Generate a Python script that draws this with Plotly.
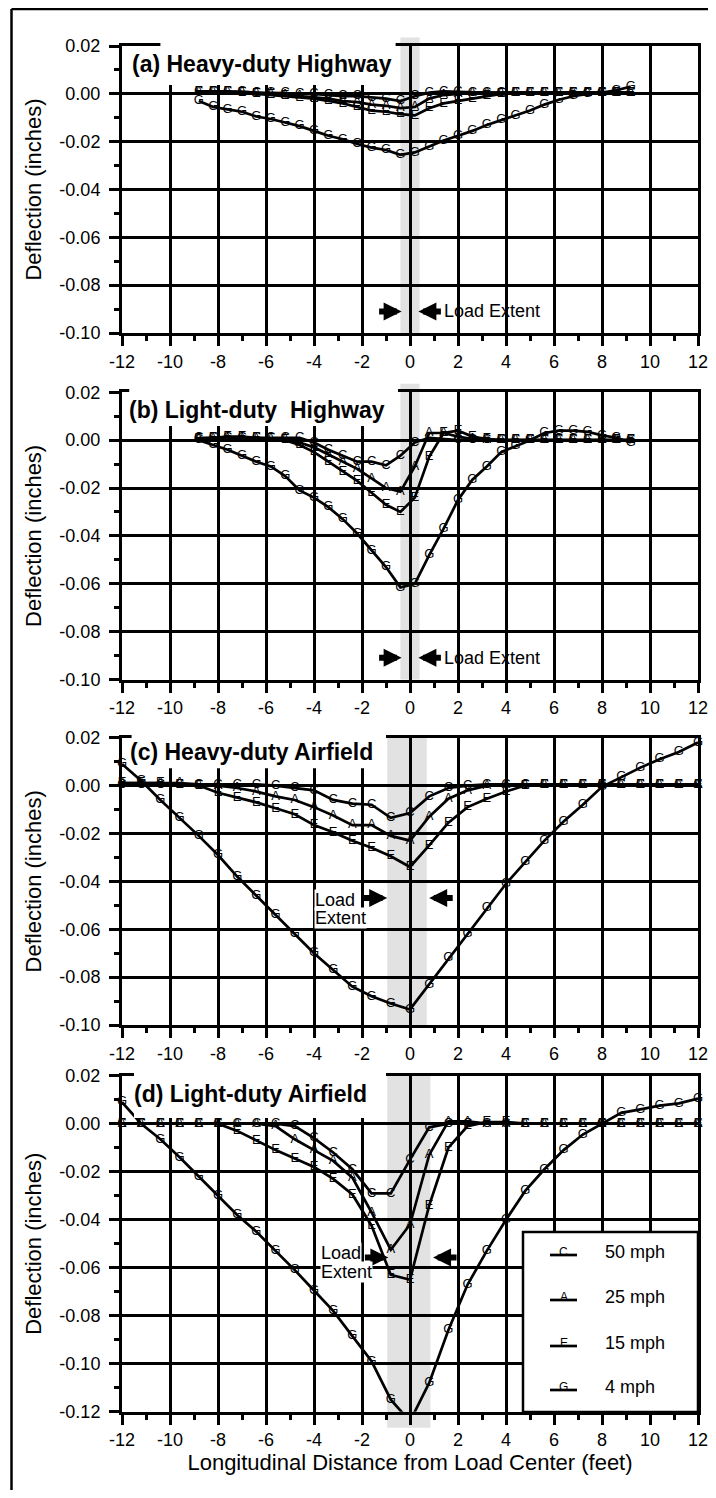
import plotly.graph_objects as go

# ---------------- data ----------------
x_highway = [-8.8, -8.2, -7.6, -7.0, -6.4, -5.8, -5.2, -4.6, -4.0, -3.4, -2.8, -2.2, -1.6, -1.0, -0.4,
             0.2, 0.8, 1.4, 2.0, 2.6, 3.2, 3.8, 4.4, 5.0, 5.6, 6.2, 6.8, 7.4, 8.0, 8.6, 9.2]
x_airfield = [-12.0, -11.2, -10.4, -9.6, -8.8, -8.0, -7.2, -6.4, -5.6, -4.8, -4.0, -3.2, -2.4, -1.6, -0.8,
              0.0, 0.8, 1.6, 2.4, 3.2, 4.0, 4.8, 5.6, 6.4, 7.2, 8.0, 8.8, 9.6, 10.4, 11.2, 12.0]

# (a) Heavy-duty Highway
a_50 = [0.001, 0.001, 0.001, 0.0008, 0.0005, 0.0005, 0.0003, 0.0, 0.0, -0.0005, -0.001, -0.001, -0.0015, -0.002, -0.003,
        -0.001, 0.0005, 0.001, 0.0008, 0.0005, 0.0005, 0.0005, 0.0005, 0.0005, 0.0005, 0.0005, 0.0005, 0.0005, 0.0005, 0.0005, 0.0005]
a_25 = [0.001, 0.001, 0.001, 0.0008, 0.0005, 0.0, -0.0005, -0.001, -0.0015, -0.002, -0.003, -0.0035, -0.0045, -0.005, -0.006,
        -0.0055, -0.002, -0.0005, 0.0, 0.0005, 0.0005, 0.0005, 0.0005, 0.0005, 0.0005, 0.0005, 0.0005, 0.0005, 0.0005, 0.0005, 0.0005]
a_15 = [0.001, 0.001, 0.0008, 0.0005, 0.0, -0.0005, -0.001, -0.0015, -0.002, -0.003, -0.004, -0.0055, -0.007, -0.0075, -0.0085,
        -0.009, -0.006, -0.004, -0.003, -0.002, -0.001, 0.0, 0.0005, 0.0005, 0.0005, 0.0005, 0.0005, 0.0005, 0.0005, 0.0005, 0.0005]
a_4 = [-0.003, -0.0055, -0.0065, -0.0075, -0.0095, -0.0105, -0.012, -0.0135, -0.0155, -0.0175, -0.019, -0.021, -0.0225, -0.0235, -0.0255,
       -0.0245, -0.022, -0.0195, -0.0175, -0.0155, -0.013, -0.011, -0.009, -0.007, -0.0045, -0.0025, -0.001, 0.0, 0.0005, 0.0015, 0.003]

# (b) Light-duty Highway
b_50 = [0.001, 0.001, 0.001, 0.001, 0.001, 0.001, 0.001, 0.001, -0.001, -0.004, -0.0065, -0.009, -0.009, -0.0105, -0.0065,
        -0.001, 0.001, 0.0005, 0.0, 0.0, 0.0, 0.0, 0.0, 0.0, 0.0, 0.0, 0.0, 0.0, 0.0, 0.0, 0.0]
b_25 = [0.0005, 0.0005, 0.0005, 0.0005, 0.0005, 0.0005, 0.0005, -0.001, -0.003, -0.006, -0.009, -0.012, -0.016, -0.020, -0.0215,
        -0.011, 0.003, 0.003, 0.0015, 0.0005, 0.0, 0.0, 0.0, 0.0, 0.0, 0.0, 0.0, 0.0, 0.0, 0.0, 0.0]
b_15 = [0.0005, 0.001, 0.0015, 0.0015, 0.001, 0.0005, 0.0, -0.002, -0.005, -0.009, -0.013, -0.017, -0.022, -0.027, -0.030,
        -0.024, -0.007, 0.003, 0.004, 0.0015, 0.0005, 0.0, 0.0, 0.0, 0.0, 0.0, 0.0, 0.0, 0.0, 0.0, 0.0]
b_4 = [0.0, -0.002, -0.004, -0.0065, -0.009, -0.011, -0.015, -0.021, -0.024, -0.028, -0.033, -0.039, -0.046, -0.053, -0.0615,
       -0.060, -0.048, -0.037, -0.025, -0.0165, -0.011, -0.005, -0.0025, 0.0, 0.003, 0.004, 0.004, 0.0035, 0.002, 0.001, -0.001]

# (c) Heavy-duty Airfield
c_50 = [0.0005, 0.0005, 0.0005, 0.0005, 0.0005, 0.0005, 0.0005, 0.0005, 0.0, -0.001, -0.002, -0.006, -0.0075, -0.008, -0.0135,
        -0.0115, -0.0045, -0.001, 0.0, 0.0005, 0.0005, 0.0005, 0.0005, 0.0005, 0.0005, 0.0005, 0.0005, 0.0005, 0.0005, 0.0005, 0.0005]
c_25 = [0.001, 0.001, 0.001, 0.001, 0.0005, 0.0, -0.001, -0.0025, -0.0045, -0.006, -0.009, -0.0125, -0.0165, -0.0165, -0.021,
        -0.023, -0.013, -0.0055, -0.002, 0.0, 0.0005, 0.0005, 0.0005, 0.0005, 0.0005, 0.0005, 0.0005, 0.0005, 0.0005, 0.0005, 0.0005]
c_15 = [0.001, 0.001, 0.001, 0.0005, 0.0, -0.003, -0.005, -0.007, -0.0095, -0.012, -0.0165, -0.0195, -0.023, -0.026, -0.0295,
        -0.034, -0.025, -0.0155, -0.009, -0.0055, -0.0025, 0.0, 0.0005, 0.0005, 0.0005, 0.0005, 0.0005, 0.0005, 0.0005, 0.0005, 0.0005]
c_4 = [0.009, 0.002, -0.006, -0.0135, -0.021, -0.029, -0.038, -0.046, -0.054, -0.062, -0.070, -0.077, -0.084, -0.088, -0.091,
       -0.0935, -0.083, -0.072, -0.062, -0.051, -0.041, -0.032, -0.023, -0.015, -0.008, -0.0005, 0.0035, 0.0075, 0.011, 0.014, 0.018]

# (d) Light-duty Airfield
d_50 = [0.0, 0.0, 0.0, 0.0, 0.0, 0.0, 0.0, 0.0, 0.0, -0.001, -0.006, -0.012, -0.019, -0.029, -0.029,
        -0.015, -0.0015, 0.0, 0.0, 0.0, 0.0, 0.0, 0.0, 0.0, 0.0, 0.0, 0.0, 0.0, 0.0, 0.0, 0.0]
d_25 = [0.0, 0.0, 0.0, 0.0, 0.0, 0.0, 0.0, 0.0, -0.001, -0.0065, -0.011, -0.0155, -0.0225, -0.037, -0.0525,
        -0.042, -0.013, 0.001, 0.001, 0.0, 0.0, 0.0, 0.0, 0.0, 0.0, 0.0, 0.0, 0.0, 0.0, 0.0, 0.0]
d_15 = [0.0, 0.0, 0.0, 0.0, 0.0, 0.0, -0.003, -0.007, -0.011, -0.0145, -0.018, -0.023, -0.0295, -0.0425, -0.063,
        -0.065, -0.034, -0.010, -0.001, 0.0007, 0.0007, 0.0, 0.0, 0.0, 0.0, 0.0, 0.0, 0.0, 0.0, 0.0, 0.0]
d_4 = [0.009, 0.0, -0.0065, -0.014, -0.022, -0.030, -0.038, -0.045, -0.053, -0.061, -0.0695, -0.078, -0.0885, -0.099, -0.115,
       -0.124, -0.108, -0.086, -0.067, -0.053, -0.040, -0.028, -0.019, -0.011, -0.0045, 0.0, 0.0045, 0.006, 0.0075, 0.0085, 0.0105]

speed_names = ['50 mph', '25 mph', '15 mph', '4 mph']
speed_letters = ['C', 'A', 'E', 'G']
panel_titles = ['(a) Heavy-duty Highway', '(b) Light-duty  Highway',
                '(c) Heavy-duty Airfield', '(d) Light-duty Airfield']

x_tick_vals = [-12, -10, -8, -6, -4, -2, 0, 2, 4, 6, 8, 10, 12]
x_tick_text = ['-12', '-10', '-8', '-6', '-4', '-2', '0', '2', '4', '6', '8', '10', '12']
y_tick_vals = [0.02, 0.0, -0.02, -0.04, -0.06, -0.08, -0.10, -0.12]
y_tick_text = ['0.02', '0.00', '-0.02', '-0.04', '-0.06', '-0.08', '-0.10', '-0.12']
y_min = [-0.10, -0.10, -0.10, -0.12]
y_max = 0.02

band_lo = [-0.4, -0.4, -0.95, -0.95]
band_hi = [0.4, 0.4, 0.7, 0.85]

panel_x = [x_highway, x_highway, x_airfield, x_airfield]
panel_series = [[a_50, a_25, a_15, a_4], [b_50, b_25, b_15, b_4],
                [c_50, c_25, c_15, c_4], [d_50, d_25, d_15, d_4]]

# ---------------- layout geometry ----------------
# reference-pixel positions are converted to figure paper coordinates; the page body
# has an 8px margin, so the figure is drawn 8px smaller on each side.
OFF = 8
W, H = 716 - 2 * OFF, 1498 - 2 * OFF


def px(xr):
    return (xr - OFF) / W


def py(yr):
    return 1 - (yr - OFF) / H


X_LEFT, X_RIGHT = 122, 698
panel_px = [(46, 333), (392.3, 679.5), (737.7, 1025), (1075.7, 1411.7)]

FONT = 'Liberation Sans, Arial, Helvetica, sans-serif'

fig = go.Figure()

for p in range(4):
    xs = panel_x[p]
    ax = '' if p == 0 else str(p + 1)
    for s in range(4):
        ys = panel_series[p][s]
        fig.add_trace(go.Scatter(
            x=xs, y=ys, mode='lines+text',
            text=[speed_letters[s]] * len(xs), textposition='middle center',
            textfont=dict(family=FONT, size=13, color='#000000'),
            line=dict(color='black', width=2.7),
            name=speed_names[s], showlegend=False, cliponaxis=False,
            xaxis='x' + ax, yaxis='y' + ax, hoverinfo='x+y+name'))

layout = dict(
    width=W, height=H, margin=dict(l=0, r=0, t=0, b=0),
    paper_bgcolor='white', plot_bgcolor='white',
    font=dict(family=FONT, color='black', size=18),
    showlegend=False,
)

shapes = []
annotations = []
for p in range(4):
    top, bot = panel_px[p]
    ax = '' if p == 0 else str(p + 1)
    xa = dict(domain=[px(X_LEFT), px(X_RIGHT)], anchor='y' + ax, range=[-12, 12],
              tickmode='array', tickvals=x_tick_vals, ticktext=x_tick_text,
              ticks='outside', ticklen=10, tickwidth=3, tickcolor='black',
              showgrid=True, gridcolor='black', gridwidth=3, zeroline=False,
              showline=True, linecolor='black', linewidth=3, mirror=True,
              tickfont=dict(family=FONT, size=18, color='black'), automargin=False,
              ticklabeloverflow='allow',
              minor=dict(ticks='outside', ticklen=5, tickwidth=2.5, tickcolor='black',
                         tickmode='linear', tick0=0, dtick=1, showgrid=False))
    nt = 8 if p == 3 else 7
    ya = dict(domain=[py(bot), py(top)], anchor='x' + ax, range=[y_min[p], y_max],
              tickmode='array', tickvals=y_tick_vals[:nt], ticktext=y_tick_text[:nt],
              ticks='outside', ticklen=10, tickwidth=3, tickcolor='black',
              showgrid=True, gridcolor='black', gridwidth=3, zeroline=False,
              showline=True, linecolor='black', linewidth=3, mirror=True,
              tickfont=dict(family=FONT, size=18, color='black'), automargin=False,
              ticklabelstandoff=5, ticklabeloverflow='allow',
              title=dict(text='Deflection (inches)', font=dict(family=FONT, size=22, color='black'), standoff=12),
              minor=dict(ticks='outside', ticklen=5, tickwidth=2.5, tickcolor='black',
                         tickmode='linear', tick0=0, dtick=0.01, showgrid=False))
    if p == 3:
        xa['title'] = dict(text='Longitudinal Distance from Load Center (feet)',
                           font=dict(family=FONT, size=22, color='black'), standoff=6)
    layout['xaxis' + ax] = xa
    layout['yaxis' + ax] = ya

    xr, yr = 'x' + ax, 'y' + ax
    # load-extent band
    shapes.append(dict(type='rect', xref=xr, yref=yr + ' domain', x0=band_lo[p], x1=band_hi[p],
                       y0=(-0.048 if p == 3 else 0), y1=(1.03 if p < 2 else 1.0),
                       fillcolor='#e2e2e2', line=dict(width=0), layer='below'))

# white boxes behind the panel titles (they also hide part of the top frame line)
title_box = [(-11.85, -0.6, 0.864), (-11.85, -0.5, 0.8825), (-11.6, -1.0, 0.894), (-11.5, -1.0, 0.874)]
top_cover_start = [-10.4, -11.7, -11.6, -11.5]
title_pos = [(0.014, 0.937), (0.009, 0.94), (0.011, 0.95), (0.017, 0.947)]
for p in range(4):
    ax = '' if p == 0 else str(p + 1)
    xr, yr = 'x' + ax, 'y' + ax
    x0, x1, yb = title_box[p]
    shapes.append(dict(type='rect', xref=xr, yref=yr + ' domain', x0=x0, x1=x1, y0=yb, y1=0.993,
                       fillcolor='white', line=dict(width=0), layer='above'))
    shapes.append(dict(type='rect', xref=xr, yref=yr + ' domain', x0=top_cover_start[p], x1=x1, y0=0.99, y1=1.012,
                       fillcolor='white', line=dict(width=0), layer='above'))
    annotations.append(dict(text='<b>' + panel_titles[p] + '</b>', xref=xr + ' domain', yref=yr + ' domain',
                            x=title_pos[p][0], y=title_pos[p][1], xanchor='left', yanchor='middle',
                            showarrow=False, font=dict(family=FONT, size=23, color='black')))

# Load extent markers
arrow_style = dict(showarrow=True, arrowhead=2, arrowsize=0.6, arrowwidth=6, arrowcolor='black', text='', ay=0)
load_arrows = [(-0.35, 0.35, -0.0910, 24), (-0.35, 0.35, -0.0909, 24), (-0.95, 0.8, -0.047, 25), (-0.9, 0.96, -0.0557, 25)]
for p in range(4):
    ax = '' if p == 0 else str(p + 1)
    xr, yr = 'x' + ax, 'y' + ax
    xl, xh, ya_, ln = load_arrows[p]
    annotations.append(dict(xref=xr, yref=yr, x=xl, y=ya_, ax=-ln, **arrow_style))
    annotations.append(dict(xref=xr, yref=yr, x=xh, y=ya_, ax=ln, **arrow_style))
    if p < 2:
        annotations.append(dict(xref=xr, yref=yr, x=1.35, y=ya_, text='Load Extent', showarrow=False,
                                xanchor='left', yanchor='middle', font=dict(family=FONT, size=18, color='black')))
    else:
        lx = -4.0 if p == 2 else -3.75
        ly = [(-0.0478, -0.0553), (-0.054, -0.0617)][p - 2]
        annotations.append(dict(xref=xr, yref=yr, x=lx, y=ly[0], text='Load', showarrow=False, bgcolor='white',
                                xanchor='left', yanchor='middle', borderpad=0,
                                font=dict(family=FONT, size=18, color='black')))
        annotations.append(dict(xref=xr, yref=yr, x=lx, y=ly[1], text='Extent', showarrow=False, bgcolor='white',
                                xanchor='left', yanchor='middle', borderpad=0,
                                font=dict(family=FONT, size=18, color='black')))

# legend box for panel (d), built from the series names and letters
LEG_L, LEG_R, LEG_T, LEG_B = 523, 698, 1232, 1412
leg_rows = [1252, 1297, 1343, 1387]
shapes.append(dict(type='rect', xref='paper', yref='paper', x0=px(LEG_L), x1=px(LEG_R), y0=py(LEG_B), y1=py(LEG_T),
                   fillcolor='white', line=dict(color='black', width=2.5), layer='above'))
for s in range(4):
    yrow = leg_rows[s]
    shapes.append(dict(type='line', xref='paper', yref='paper', x0=px(550), x1=px(577), y0=py(yrow + 3), y1=py(yrow + 3),
                       line=dict(color='black', width=2.7), layer='above'))
    annotations.append(dict(xref='paper', yref='paper', x=px(563.5), y=py(yrow), text=speed_letters[s],
                            showarrow=False, xanchor='center', yanchor='middle',
                            font=dict(family=FONT, size=12, color='black')))
    annotations.append(dict(xref='paper', yref='paper', x=px(603), y=py(yrow), text=speed_names[s],
                            showarrow=False, xanchor='left', yanchor='middle',
                            font=dict(family=FONT, size=18, color='black')))

# outer frame (left and top border)
shapes.append(dict(type='line', xref='paper', yref='paper', x0=px(11.5), x1=px(11.5), y0=0, y1=1 - 1 / H,
                   line=dict(color='black', width=2.5)))
shapes.append(dict(type='line', xref='paper', yref='paper', x0=px(11.5), x1=1, y0=1 - 1 / H, y1=1 - 1 / H,
                   line=dict(color='black', width=2.5)))

layout['shapes'] = shapes
layout['annotations'] = annotations
fig.update_layout(**layout)
fig.write_html('out.html')
